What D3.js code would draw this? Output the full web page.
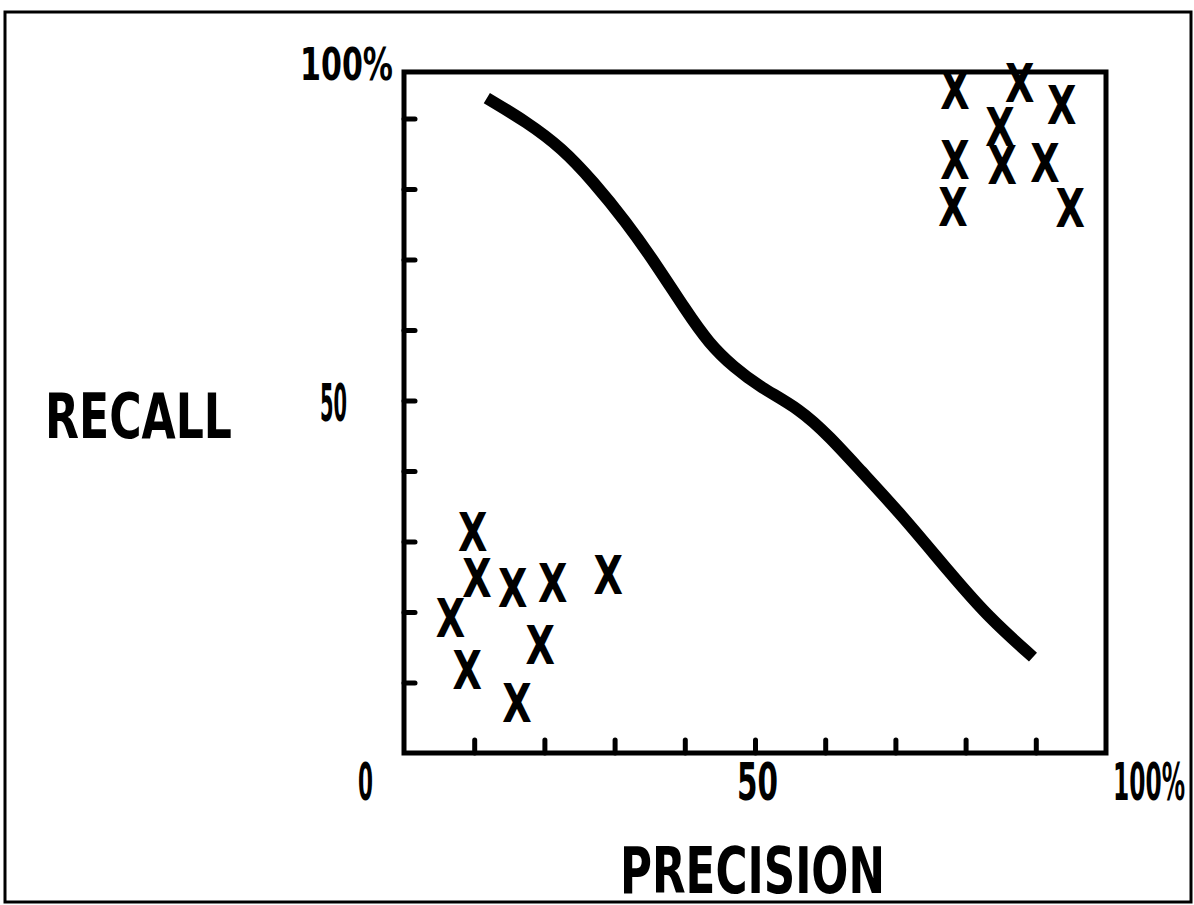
<!DOCTYPE html>
<html>
<head>
<meta charset="utf-8">
<script src="https://cdn.jsdelivr.net/npm/d3@7.9.0/dist/d3.min.js"></script>
<style>
  body { margin: 0; background: #fff; }
  text { font-family: "DejaVu Sans Condensed", "Liberation Sans Narrow", sans-serif; font-weight: bold; fill: #000; }
</style>
</head>
<body>
<svg id="chart" width="1194" height="905"></svg>
<script>
// trade-off curve (precision %, recall %)
const curvePrecision = [11.8, 17.5, 22.5, 27.0, 31.5, 36.0, 40.0, 43.5, 47.0, 50.7, 56.4, 60.7, 65.0, 70.7, 77.8, 83.3, 89.6];
const curveRecall = [92.9, 89.5, 85.8, 81.0, 75.5, 69.2, 63.0, 58.0, 54.7, 51.9, 48.8, 44.8, 40.1, 34.0, 25.5, 19.2, 13.6];

// X marks, lower-left group
const lowPrecision = [9.8, 10.4, 15.5, 21.2, 29.1, 6.6, 19.4, 9.0, 16.1];
const lowRecall = [31.3, 24.8, 23.4, 24.1, 25.2, 19.1, 15.3, 11.8, 7.1];

// X marks, upper-right group
const highPrecision = [78.5, 87.7, 93.7, 84.9, 78.5, 85.2, 91.3, 78.2, 94.9];
const highRecall = [94.0, 95.0, 91.9, 88.8, 84.1, 83.4, 83.7, 77.4, 77.3];

const tickValues = [10, 20, 30, 40, 50, 60, 70, 80, 90];
const xTickLabels = ['0', '50', '100%'];
const yTickLabels = ['50', '100%'];

const svg = d3.select('#chart');

const x = d3.scaleLinear().domain([0, 100]).range([404, 1106]);
const y = d3.scaleLinear().domain([0, 100]).range([753, 48]);
const boxTop = 96.6; // the drawn frame stops a bit short of 100

// outer border of the figure
svg.append('rect')
  .attr('x', 5).attr('y', 12)
  .attr('width', 1186).attr('height', 890)
  .attr('fill', 'none').attr('stroke', '#000').attr('stroke-width', 3);

// plot box
svg.append('rect')
  .attr('x', x(0)).attr('y', y(boxTop))
  .attr('width', x(100) - x(0)).attr('height', y(0) - y(boxTop))
  .attr('fill', 'none').attr('stroke', '#000').attr('stroke-width', 5);

// inside ticks
const yAxis = svg.append('g')
  .attr('transform', `translate(${x(0)},0)`)
  .call(d3.axisLeft(y).tickValues(tickValues).tickSize(-11).tickFormat(''));
const xAxis = svg.append('g')
  .attr('transform', `translate(0,${y(0)})`)
  .call(d3.axisBottom(x).tickValues(tickValues).tickSize(-13).tickFormat(''));
[yAxis, xAxis].forEach(g => {
  g.select('.domain').remove();
  g.selectAll('line').attr('stroke', '#000').attr('stroke-width', 5).attr('stroke-linecap', 'round');
});

// curve
const line = d3.line()
  .x(i => x(curvePrecision[i]))
  .y(i => y(curveRecall[i]))
  .curve(d3.curveBasis);
svg.append('path')
  .attr('d', line(d3.range(curvePrecision.length)))
  .attr('fill', 'none')
  .attr('stroke', '#000')
  .attr('stroke-width', 12);

// X marks
const marks = lowPrecision.map((p, i) => [p, lowRecall[i]])
  .concat(highPrecision.map((p, i) => [p, highRecall[i]]));
svg.selectAll('text.mark')
  .data(marks)
  .join('text')
  .attr('class', 'mark')
  .attr('transform', d => `translate(${x(d[0])},${y(d[1])}) scale(0.8,1)`)
  .attr('text-anchor', 'middle')
  .attr('dy', '0.36em')
  .style('font-size', '53px')
  .text('X');

// tick labels
function label(txt, left, base, w, size) {
  svg.append('text').attr('x', left).attr('y', base)
    .attr('textLength', w).attr('lengthAdjust', 'spacingAndGlyphs')
    .style('font-size', size + 'px').text(txt);
}
label(yTickLabels[1], x(0) - 104, y(boxTop) + 8, 93, 45);
label(yTickLabels[0], x(0) - 84, y(50) + 20, 27, 52);
label(xTickLabels[0], x(0) - 46, y(0) + 47, 15, 52);
label(xTickLabels[1], x(50) - 18, y(0) + 47, 41, 52);
label(xTickLabels[2], x(100) + 7, y(0) + 47, 72, 52);

// axis titles
svg.append('text').attr('x', 45).attr('y', 438)
  .attr('textLength', 187).attr('lengthAdjust', 'spacingAndGlyphs')
  .style('font-size', '62px').text('RECALL');
svg.append('text').attr('x', 620).attr('y', 893)
  .attr('textLength', 265).attr('lengthAdjust', 'spacingAndGlyphs')
  .style('font-size', '64px').text('PRECISION');
</script>
</body>
</html>
